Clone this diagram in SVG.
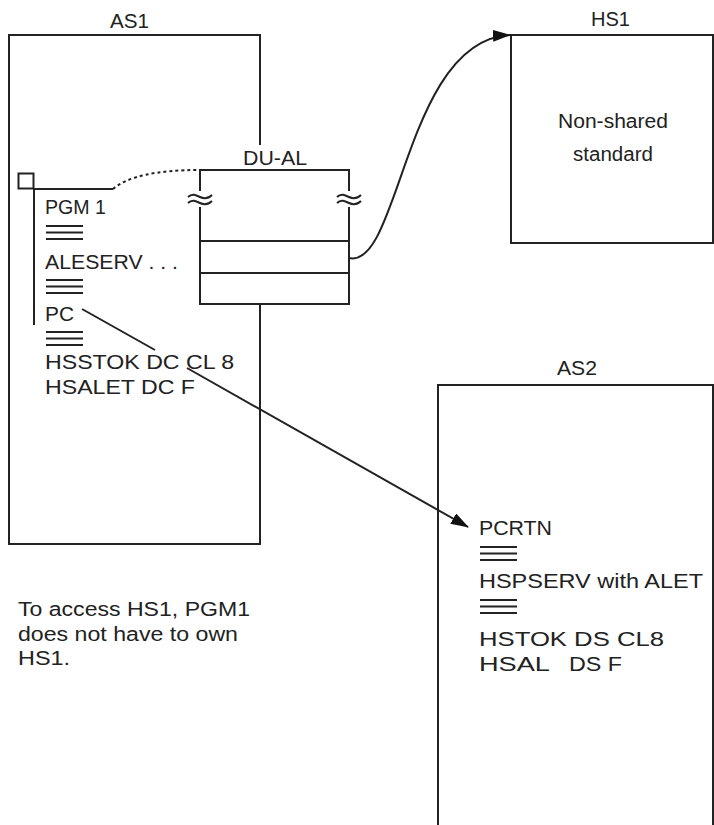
<svg xmlns="http://www.w3.org/2000/svg" width="714" height="825" viewBox="0 0 714 825">
<style>
  .ln{fill:none;stroke:#222;stroke-width:2}
  .t{font-family:"Liberation Sans",Arial,Helvetica,sans-serif;font-size:19.5px;fill:#222}
  .eq{stroke:#222;stroke-width:2}
</style>
<defs>
  <marker id="ah" viewBox="0 0 18 12" refX="17" refY="6" markerWidth="18" markerHeight="12" markerUnits="userSpaceOnUse" orient="auto">
    <path d="M0,0 L18,6 L0,12 Z" fill="#111"/>
  </marker>
  <g id="triple">
    <line x1="0" y1="0" x2="37" y2="0" class="eq"/>
    <line x1="0" y1="6.5" x2="37" y2="6.5" class="eq"/>
    <line x1="0" y1="13" x2="37" y2="13" class="eq"/>
  </g>
</defs>
<rect width="714" height="825" fill="#fff"/>

<g id="AS1">
  <path class="ln" d="M260,145 V35 H9 V544 H260 V304"/>
  <text class="t" x="110" y="28" textLength="39" lengthAdjust="spacingAndGlyphs">AS1</text>
  <rect class="ln" x="18.5" y="173.5" width="15" height="15"/>
  <path class="ln" d="M33,189 H113 M34,189 V325"/>
  <text class="t" x="45" y="214" textLength="61" lengthAdjust="spacingAndGlyphs">PGM 1</text>
  <use href="#triple" x="46" y="226"/>
  <text class="t" x="45" y="269" textLength="133" lengthAdjust="spacingAndGlyphs">ALESERV . . .</text>
  <use href="#triple" x="46" y="280"/>
  <text class="t" x="45" y="321" textLength="29" lengthAdjust="spacingAndGlyphs">PC</text>
  <use href="#triple" x="46" y="332"/>
  <text class="t" x="45" y="369" textLength="189" lengthAdjust="spacingAndGlyphs">HSSTOK DC CL 8</text>
  <text class="t" x="45" y="394" textLength="150" lengthAdjust="spacingAndGlyphs">HSALET DC F</text>
</g>

<g id="DU-AL">
  <text class="t" x="243" y="165" textLength="64" lengthAdjust="spacingAndGlyphs">DU-AL</text>
  <path class="ln" d="M200,191 V170 H349 V191"/>
  <path class="ln" d="M200,207 V304 H349 V207 M200,241 H349 M200,273 H349"/>
  <path class="ln" d="M188,197 c4,-4 8,-2 12,0 s8,2 12,-2 M188,203 c4,-4 8,-2 12,0 s8,2 12,-2"/>
  <path class="ln" d="M337,197 c4,-4 8,-2 12,0 s8,2 12,-2 M337,203 c4,-4 8,-2 12,0 s8,2 12,-2"/>
</g>

<g id="HS1">
  <rect class="ln" x="511" y="35" width="202" height="208"/>
  <text class="t" x="591" y="26" textLength="39" lengthAdjust="spacingAndGlyphs">HS1</text>
  <text class="t" x="558" y="128" textLength="110" lengthAdjust="spacingAndGlyphs">Non-shared</text>
  <text class="t" x="573" y="161" textLength="80" lengthAdjust="spacingAndGlyphs">standard</text>
</g>

<g id="AS2">
  <path class="ln" d="M438,830 V385 H713 V830"/>
  <text class="t" x="557" y="375" textLength="40" lengthAdjust="spacingAndGlyphs">AS2</text>
  <text class="t" x="479" y="535" textLength="73" lengthAdjust="spacingAndGlyphs">PCRTN</text>
  <use href="#triple" x="480" y="547"/>
  <text class="t" x="479" y="588" textLength="224" lengthAdjust="spacingAndGlyphs">HSPSERV with ALET</text>
  <use href="#triple" x="480" y="600"/>
  <text class="t" x="479" y="646" textLength="185" lengthAdjust="spacingAndGlyphs">HSTOK DS CL8</text>
  <text class="t" x="479" y="671" textLength="71" lengthAdjust="spacingAndGlyphs">HSAL</text>
  <text class="t" x="569" y="671" textLength="53" lengthAdjust="spacingAndGlyphs">DS F</text>
</g>

<g id="note">
  <text class="t" x="18" y="616" textLength="232" lengthAdjust="spacingAndGlyphs">To access HS1, PGM1</text>
  <text class="t" x="18" y="641" textLength="220" lengthAdjust="spacingAndGlyphs">does not have to own</text>
  <text class="t" x="18" y="665" textLength="52" lengthAdjust="spacingAndGlyphs">HS1.</text>
</g>

<g id="connectors">
  <path class="ln" stroke-dasharray="3,3" d="M113,189 Q135,170 200,170"/>
  <path class="ln" d="M349,258 C400,270 405,40 510,35" marker-end="url(#ah)"/>
  <path class="ln" d="M82,309 L155,350"/>
  <path class="ln" d="M187,368 L468,527" marker-end="url(#ah)"/>
</g>
</svg>
